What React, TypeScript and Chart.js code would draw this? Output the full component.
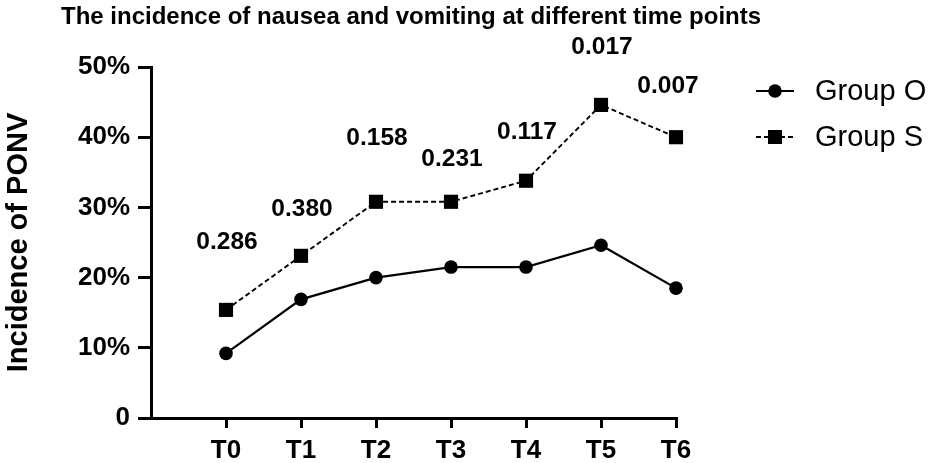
import React, { useEffect, useRef } from "react";
import { Chart, registerables } from "chart.js";

Chart.register(...registerables);

const chartTitle = "The incidence of nausea and vomiting at different time points";
const yAxisTitle = "Incidence of PONV";
const timePoints = ["T0", "T1", "T2", "T3", "T4", "T5", "T6"];
const seriesNames = ["Group O", "Group S"];
const groupO = [9.2, 16.9, 20.0, 21.5, 21.5, 24.6, 18.5];
const groupS = [15.4, 23.1, 30.8, 30.8, 33.8, 44.6, 40.0];
const pValues = ["0.286", "0.380", "0.158", "0.231", "0.117", "0.017", "0.007"];
const pLabelLevel = [25.0, 29.8, 39.8, 36.9, 40.7, 52.8, 47.3];
const yTickValues = [0, 10, 20, 30, 40, 50];

const FONT = '"Liberation Sans", Arial, Helvetica, sans-serif';

const overlayPlugin = {
  id: "overlay",
  afterDraw(chart: any) {
    const ctx = chart.ctx;
    const xs = chart.scales.x;
    const ys = chart.scales.y;
    ctx.save();
    ctx.fillStyle = "#000";
    // title
    ctx.font = `bold 24px ${FONT}`;
    ctx.textAlign = "left";
    ctx.textBaseline = "alphabetic";
    ctx.fillText(chartTitle, 61, 23.5);
    // y axis title
    ctx.save();
    ctx.translate(27, (ys.top + ys.bottom) / 2);
    ctx.rotate(-Math.PI / 2);
    ctx.font = `bold 29px ${FONT}`;
    ctx.textAlign = "center";
    ctx.textBaseline = "alphabetic";
    ctx.fillText(yAxisTitle, 0, 0);
    ctx.restore();
    // p values
    ctx.font = `bold 24.5px ${FONT}`;
    ctx.textAlign = "center";
    ctx.textBaseline = "middle";
    pValues.forEach((p, i) => {
      const dx = i === pValues.length - 1 ? -9 : 0;
      ctx.fillText(p, xs.getPixelForValue(i) + 1 + dx, ys.getPixelForValue(pLabelLevel[i]));
    });
    // legend
    const rows = [91, 137];
    chart.data.datasets.forEach((ds: any, i: number) => {
      const y = rows[i];
      ctx.save();
      ctx.strokeStyle = "#000";
      ctx.lineWidth = 2;
      ctx.setLineDash(ds.borderDash || []);
      ctx.beginPath();
      ctx.moveTo(756, y);
      ctx.lineTo(794, y);
      ctx.stroke();
      ctx.setLineDash([]);
      ctx.fillStyle = "#000";
      if (ds.pointStyle === "rect") {
        ctx.fillRect(775 - 7, y - 7, 14, 14);
      } else {
        ctx.beginPath();
        ctx.arc(775, y, 6.8, 0, Math.PI * 2);
        ctx.fill();
      }
      ctx.font = `29px ${FONT}`;
      ctx.textAlign = "left";
      ctx.textBaseline = "middle";
      ctx.fillText(ds.label, 815, y + 1);
      ctx.restore();
    });
    ctx.restore();
  },
};

export default function App() {
  const ref = useRef<HTMLCanvasElement | null>(null);
  useEffect(() => {
    if (!ref.current) return;
    const chart = new Chart(ref.current, {
      type: "line",
      data: {
        datasets: [
          {
            label: seriesNames[0],
            data: groupO.map((v, i) => ({ x: i, y: v })),
            borderColor: "#000",
            backgroundColor: "#000",
            borderWidth: 2.2,
            pointStyle: "circle",
            pointRadius: 6.8,
            pointBorderWidth: 0,
            pointBackgroundColor: "#000",
            tension: 0,
            clip: false,
          },
          {
            label: seriesNames[1],
            data: groupS.map((v, i) => ({ x: i, y: v })),
            borderColor: "#000",
            backgroundColor: "#000",
            borderWidth: 1.9,
            borderDash: [5, 3],
            pointStyle: "rect",
            pointRadius: 10,
            pointBorderWidth: 0,
            pointBackgroundColor: "#000",
            tension: 0,
            clip: false,
          },
        ],
      },
      options: {
        animation: false,
        responsive: false,
        maintainAspectRatio: false,
        layout: { padding: { top: 67, right: 252, bottom: 0, left: 0 } },
        plugins: {
          legend: { display: false },
          title: { display: false },
          tooltip: { enabled: false },
        },
        scales: {
          x: {
            type: "linear",
            min: -1,
            max: 6,
            afterBuildTicks: (scale: any) => {
              scale.ticks = timePoints.map((_, i) => ({ value: i }));
            },
            afterFit: (scale: any) => {
              scale.height = 45;
            },
            grid: {
              display: true,
              drawOnChartArea: false,
              drawTicks: true,
              tickLength: 10,
              lineWidth: 3,
              color: "#000",
            },
            border: { display: true, width: 3, color: "#000" },
            ticks: {
              autoSkip: false,
              maxRotation: 0,
              padding: 7,
              color: "#000",
              font: { family: FONT, size: 26, weight: "bold" },
              callback: (v: any) => timePoints[v] ?? "",
            },
          },
          y: {
            min: 0,
            max: 50,
            afterBuildTicks: (scale: any) => {
              scale.ticks = yTickValues.map((v) => ({ value: v }));
            },
            afterFit: (scale: any) => {
              scale.width = 151;
            },
            grid: {
              display: true,
              drawOnChartArea: false,
              drawTicks: true,
              tickLength: 13,
              lineWidth: 3,
              color: "#000",
            },
            border: { display: true, width: 3, color: "#000" },
            ticks: {
              padding: 8,
              color: "#000",
              font: { family: FONT, size: 26, weight: "bold" },
              callback: (v: any) => (v === 0 ? "0" : `${v}%`),
            },
          },
        },
      },
      plugins: [overlayPlugin],
    });
    return () => chart.destroy();
  }, []);
  return (
    <div style={{ position: "fixed", left: 0, top: 0, width: 928, height: 463, background: "#fff" }}>
      <canvas ref={ref} width={928} height={463} style={{ width: 928, height: 463 }} />
    </div>
  );
}
